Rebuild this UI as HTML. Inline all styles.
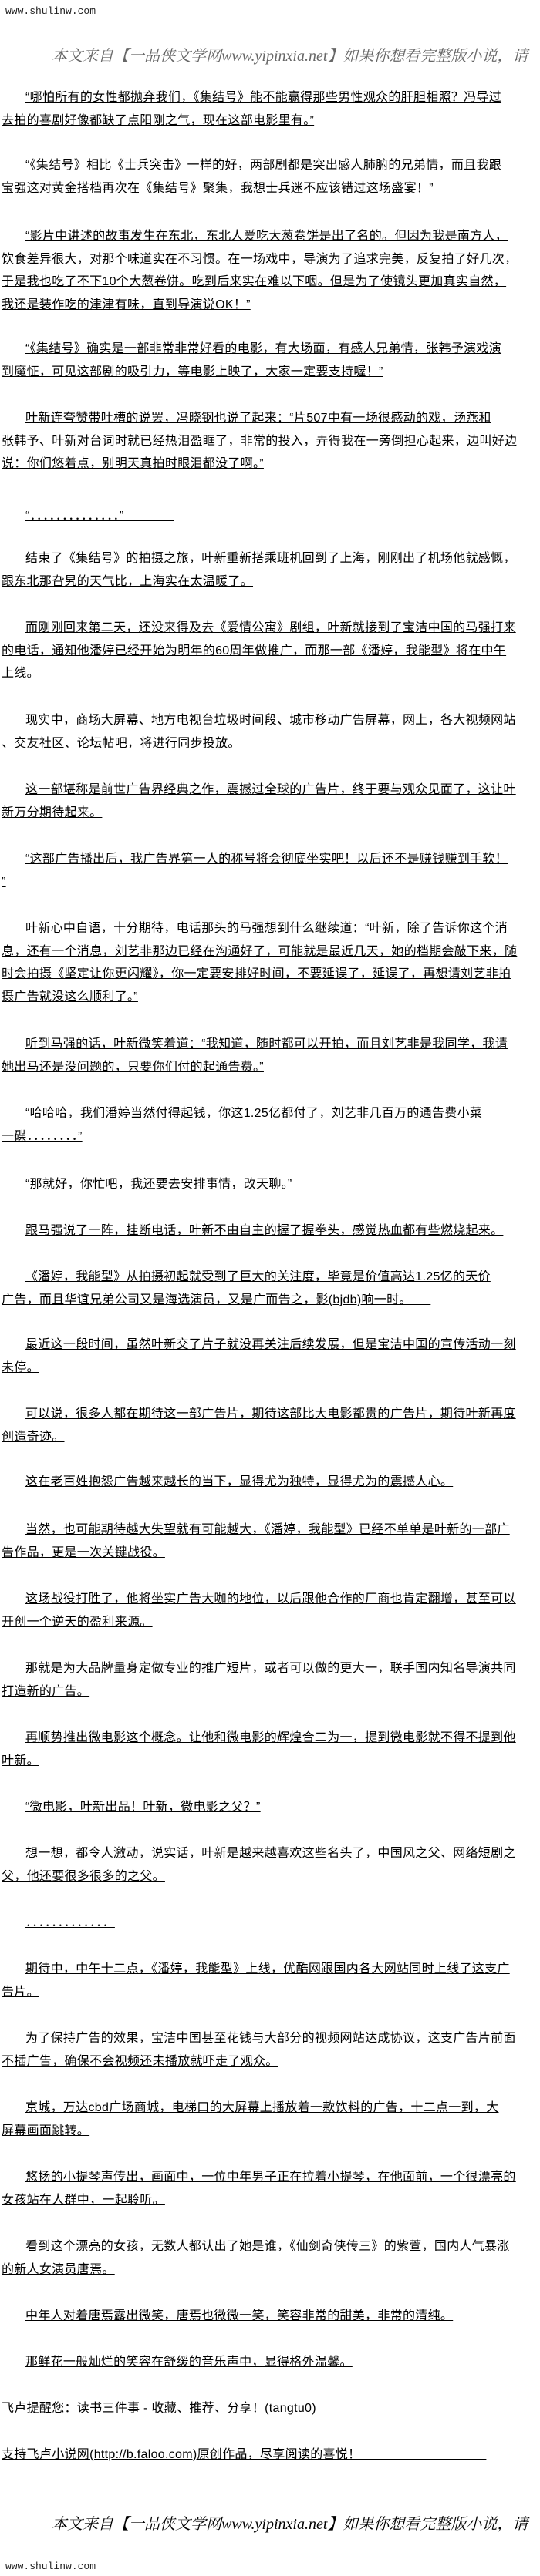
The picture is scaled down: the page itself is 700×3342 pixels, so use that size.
<!DOCTYPE html>
<html><head><meta charset="utf-8">
<style>
html,body{margin:0;padding:0;background:#fff;}
body{width:700px;height:3342px;position:relative;overflow:hidden;}
.p{position:absolute;left:2px;white-space:nowrap;font-family:"Liberation Sans","Noto Sans CJK SC","WenQuanYi Zen Hei",sans-serif;font-size:16px;line-height:29.5px;letter-spacing:0.3px;color:#000;text-decoration:underline;text-indent:31px;}
.f{text-indent:0;}
.hd{position:absolute;left:7px;font-family:"Liberation Mono",monospace;font-size:13px;color:#222;}
.bn{position:absolute;left:67px;width:633px;overflow:hidden;white-space:nowrap;font-family:"Liberation Serif","Noto Serif CJK SC",serif;font-style:italic;font-size:20px;line-height:30px;}
</style></head><body>
<div class="hd" style="top:7px">www.shulinw.com</div>
<div class="bn" style="top:58px;color:#666">本文来自【一品侠文学网www.yipinxia.net】如果你想看完整版小说，请</div>

<div class="p" style="top:112px">“哪怕所有的女性都抛弃我们，《集结号》能不能赢得那些男性观众的肝胆相照？冯导过<br>去拍的喜剧好像都缺了点阳刚之气，现在这部电影里有。”</div>
<div class="p" style="top:200px">“《集结号》相比《士兵突击》一样的好，两部剧都是突出感人肺腑的兄弟情，而且我跟<br>宝强这对黄金搭档再次在《集结号》聚集，我想士兵迷不应该错过这场盛宴！”</div>
<div class="p" style="top:292px">“影片中讲述的故事发生在东北，东北人爱吃大葱卷饼是出了名的。但因为我是南方人，<br>饮食差异很大，对那个味道实在不习惯。在一场戏中，导演为了追求完美，反复拍了好几次，<br>于是我也吃了不下10个大葱卷饼。吃到后来实在难以下咽。但是为了使镜头更加真实自然，<br>我还是装作吃的津津有味，直到导演说OK！”</div>
<div class="p" style="top:438px">“《集结号》确实是一部非常非常好看的电影，有大场面，有感人兄弟情，张韩予演戏演<br>到魔怔，可见这部剧的吸引力，等电影上映了，大家一定要支持喔！”</div>
<div class="p" style="top:528px">叶新连夸赞带吐槽的说罢，冯晓钢也说了起来：“片507中有一场很感动的戏，汤燕和<br>张韩予、叶新对台词时就已经热泪盈眶了，非常的投入，弄得我在一旁倒担心起来，边叫好边<br>说：你们悠着点，别明天真拍时眼泪都没了啊。”</div>
<div class="p" style="top:655px">“．．．．．．．．．．．．．．”　　　　</div>
<div class="p" style="top:710px">结束了《集结号》的拍摄之旅，叶新重新搭乘班机回到了上海，刚刚出了机场他就感慨，<br>跟东北那旮旯的天气比，上海实在太温暖了。</div>
<div class="p" style="top:800px">而刚刚回来第二天，还没来得及去《爱情公寓》剧组，叶新就接到了宝洁中国的马强打来<br>的电话，通知他潘婷已经开始为明年的60周年做推广，而那一部《潘婷，我能型》将在中午<br>上线。</div>
<div class="p" style="top:920px">现实中，商场大屏幕、地方电视台垃圾时间段、城市移动广告屏幕，网上，各大视频网站<br>、交友社区、论坛帖吧，将进行同步投放。</div>
<div class="p" style="top:1010px">这一部堪称是前世广告界经典之作，震撼过全球的广告片，终于要与观众见面了，这让叶<br>新万分期待起来。</div>
<div class="p" style="top:1100px">“这部广告播出后，我广告界第一人的称号将会彻底坐实吧！以后还不是赚钱赚到手软！<br>”</div>
<div class="p" style="top:1190px">叶新心中自语，十分期待，电话那头的马强想到什么继续道：“叶新，除了告诉你这个消<br>息，还有一个消息，刘艺非那边已经在沟通好了，可能就是最近几天，她的档期会敲下来，随<br>时会拍摄《坚定让你更闪耀》，你一定要安排好时间，不要延误了，延误了，再想请刘艺非拍<br>摄广告就没这么顺利了。”</div>
<div class="p" style="top:1340px">听到马强的话，叶新微笑着道：“我知道，随时都可以开拍，而且刘艺非是我同学，我请<br>她出马还是没问题的，只要你们付的起通告费。”</div>
<div class="p" style="top:1430px">“哈哈哈，我们潘婷当然付得起钱，你这1.25亿都付了，刘艺非几百万的通告费小菜<br>一碟．．．．．．．．”</div>
<div class="p" style="top:1522px">“那就好，你忙吧，我还要去安排事情，改天聊。”</div>
<div class="p" style="top:1582px">跟马强说了一阵，挂断电话，叶新不由自主的握了握拳头，感觉热血都有些燃烧起来。</div>
<div class="p" style="top:1642px">《潘婷，我能型》从拍摄初起就受到了巨大的关注度，毕竟是价值高达1.25亿的天价<br>广告，而且华谊兄弟公司又是海选演员，又是广而告之，影(bjdb)响一时。　　</div>
<div class="p" style="top:1730px">最近这一段时间，虽然叶新交了片子就没再关注后续发展，但是宝洁中国的宣传活动一刻<br>未停。</div>
<div class="p" style="top:1820px">可以说，很多人都在期待这一部广告片，期待这部比大电影都贵的广告片，期待叶新再度<br>创造奇迹。</div>
<div class="p" style="top:1908px">这在老百姓抱怨广告越来越长的当下，显得尤为独特，显得尤为的震撼人心。</div>
<div class="p" style="top:1970px">当然，也可能期待越大失望就有可能越大，《潘婷，我能型》已经不单单是叶新的一部广<br>告作品，更是一次关键战役。</div>
<div class="p" style="top:2060px">这场战役打胜了，他将坐实广告大咖的地位，以后跟他合作的厂商也肯定翻增，甚至可以<br>开创一个逆天的盈利来源。</div>
<div class="p" style="top:2150px">那就是为大品牌量身定做专业的推广短片，或者可以做的更大一，联手国内知名导演共同<br>打造新的广告。</div>
<div class="p" style="top:2240px">再顺势推出微电影这个概念。让他和微电影的辉煌合二为一，提到微电影就不得不提到他<br>叶新。</div>
<div class="p" style="top:2330px">“微电影，叶新出品！叶新，微电影之父？”</div>
<div class="p" style="top:2390px">想一想，都令人激动，说实话，叶新是越来越喜欢这些名头了，中国风之父、网络短剧之<br>父，他还要很多很多的之父。</div>
<div class="p" style="top:2480px">．．．．．．．．．．．．．</div>
<div class="p" style="top:2540px">期待中，中午十二点，《潘婷，我能型》上线，优酷网跟国内各大网站同时上线了这支广<br>告片。</div>
<div class="p" style="top:2630px">为了保持广告的效果，宝洁中国甚至花钱与大部分的视频网站达成协议，这支广告片前面<br>不插广告，确保不会视频还未播放就吓走了观众。</div>
<div class="p" style="top:2720px">京城，万达cbd广场商城，电梯口的大屏幕上播放着一款饮料的广告，十二点一到，大<br>屏幕画面跳转。</div>
<div class="p" style="top:2810px">悠扬的小提琴声传出，画面中，一位中年男子正在拉着小提琴，在他面前，一个很漂亮的<br>女孩站在人群中，一起聆听。</div>
<div class="p" style="top:2900px">看到这个漂亮的女孩，无数人都认出了她是谁，《仙剑奇侠传三》的紫萱，国内人气暴涨<br>的新人女演员唐焉。</div>
<div class="p" style="top:2990px">中年人对着唐焉露出微笑，唐焉也微微一笑，笑容非常的甜美，非常的清纯。</div>
<div class="p" style="top:3050px">那鲜花一般灿烂的笑容在舒缓的音乐声中，显得格外温馨。 </div>
<div class="p f" style="top:3110px">飞卢提醒您：读书三件事 - 收藏、推荐、分享！(tangtu0)　　　　　</div>
<div class="p f" style="top:3170px">支持飞卢小说网(http://b.faloo.com)原创作品，尽享阅读的喜悦！　　　　　　　　　　</div>

<div class="bn" style="top:3260px;color:#000">本文来自【一品侠文学网www.yipinxia.net】如果你想看完整版小说，请</div>
<div class="hd" style="top:3322px">www.shulinw.com</div>
</body></html>
